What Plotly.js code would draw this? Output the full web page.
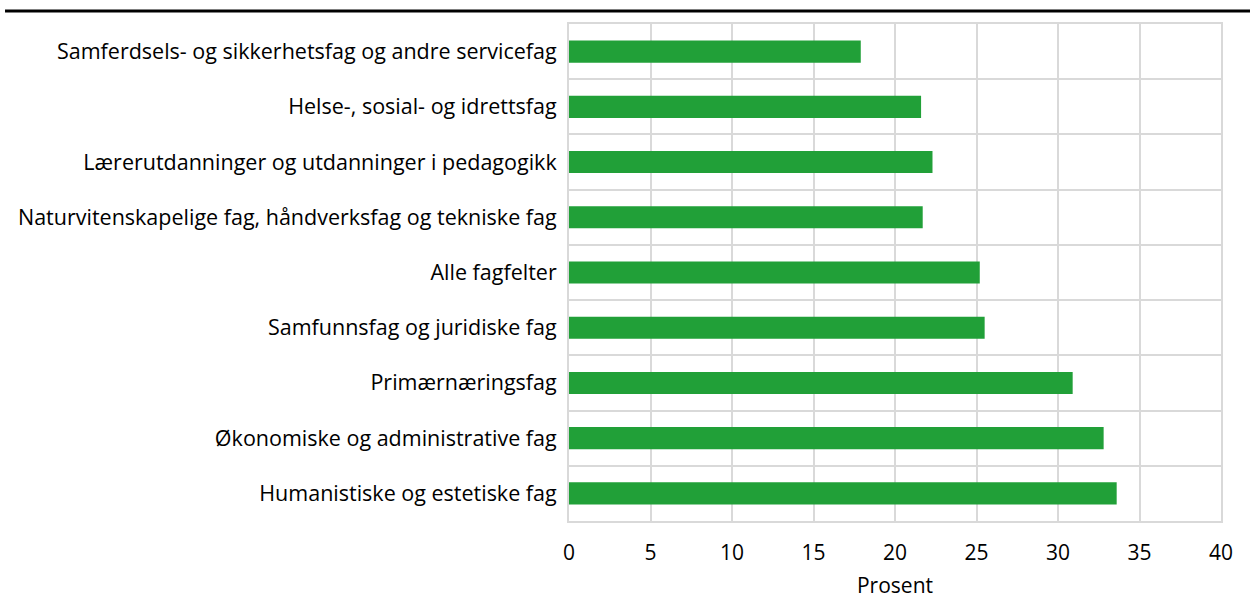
<!DOCTYPE html>
<html>
<head>
<meta charset="utf-8">
<script src="https://cdn.plot.ly/plotly-3.0.1.min.js"></script>
<style>html,body{margin:0;padding:0;background:#fff;}#chart{width:1250px;height:599px;}</style>
</head>
<body>
<div id="chart"></div>
<script>
const categories = [
  "Samferdsels- og sikkerhetsfag og andre servicefag",
  "Helse-, sosial- og idrettsfag",
  "Lærerutdanninger og utdanninger i pedagogikk",
  "Naturvitenskapelige fag, håndverksfag og tekniske fag",
  "Alle fagfelter",
  "Samfunnsfag og juridiske fag",
  "Primærnæringsfag",
  "Økonomiske og administrative fag",
  "Humanistiske og estetiske fag"
];
const values = [17.9, 21.6, 22.3, 21.7, 25.2, 25.5, 30.9, 32.8, 33.6];
const xTicks = [0, 5, 10, 15, 20, 25, 30, 35, 40];

const trace = {
  type: "bar",
  orientation: "h",
  y: categories,
  x: values,
  marker: {color: "#21a038"},
  hoverinfo: "x+y"
};

const layout = {
  width: 1250,
  height: 599,
  margin: {l: 569, r: 29, t: 24, b: 78, pad: 0},
  paper_bgcolor: "#ffffff",
  plot_bgcolor: "#ffffff",
  font: {family: "Open Sans, sans-serif", size: 21.5, color: "#000000"},
  bargap: 0.6,
  showlegend: false,
  xaxis: {
    range: [0, 40],
    tickvals: xTicks,
    ticktext: xTicks.map(String),
    showgrid: true,
    gridcolor: "#d9d9d9",
    gridwidth: 2,
    zeroline: false,
    showline: true,
    linecolor: "#d9d9d9",
    linewidth: 2,
    mirror: true,
    ticks: "",
    ticklabelstandoff: 12,
    tickfont: {size: 21},
    title: {text: "Prosent", font: {size: 21}, standoff: 15}
  },
  yaxis: {
    type: "category",
    autorange: "reversed",
    tickson: "boundaries",
    showgrid: true,
    gridcolor: "#d9d9d9",
    gridwidth: 2,
    showline: true,
    linecolor: "#d9d9d9",
    linewidth: 2,
    mirror: true,
    ticks: "",
    ticklabelstandoff: 6,
    tickfont: {size: 21.5}
  },
  shapes: [{
    type: "line",
    xref: "paper", yref: "paper",
    x0: -0.865, x1: 1.05,
    y0: 1.026, y1: 1.026,
    line: {color: "#000000", width: 3}
  }]
};

Plotly.newPlot("chart", [trace], layout, {displayModeBar: false, staticPlot: true});
</script>
</body>
</html>
